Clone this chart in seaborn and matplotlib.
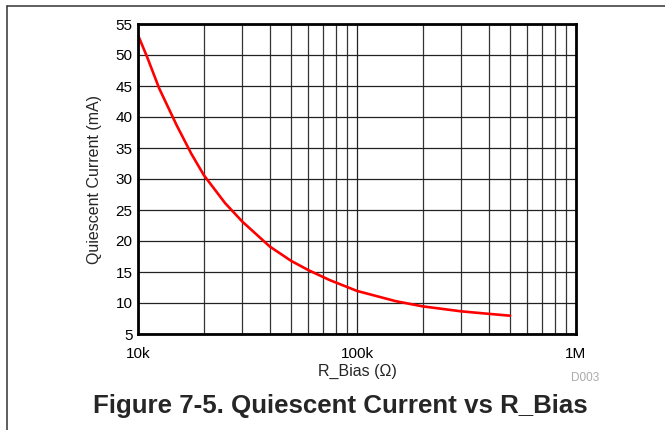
import matplotlib
matplotlib.use("Agg")
import matplotlib.pyplot as plt
from matplotlib.lines import Line2D
from matplotlib.ticker import FixedLocator, FixedFormatter, LogLocator, NullFormatter
import seaborn as sns
import pandas as pd

# Quiescent current vs bias resistor
r_bias_ohm = [10e3, 11e3, 12.5e3, 15e3, 17.5e3, 20e3, 25e3, 30e3, 40e3, 50e3,
              60e3, 75e3, 100e3, 150e3, 200e3, 300e3, 400e3, 500e3]
iq_ma = [53.2, 49.7, 44.6, 38.7, 34.1, 30.6, 26.1, 23.1, 19.1, 16.8,
         15.3, 13.7, 11.95, 10.3, 9.45, 8.65, 8.25, 7.95]

x_ticks = [1e4, 1e5, 1e6]
x_tick_labels = ["10k", "100k", "1M"]
y_ticks = [5, 10, 15, 20, 25, 30, 35, 40, 45, 50, 55]

sns.set_theme(style="white")
plt.rcParams["font.family"] = ["Liberation Sans", "DejaVu Sans"]

df = pd.DataFrame({"R_Bias": r_bias_ohm, "Iq": iq_ma})

fig = plt.figure(figsize=(6.65, 4.30), dpi=100)
ax = fig.add_axes([138 / 665, 1 - 334 / 430, 438 / 665, 310 / 430])

sns.lineplot(data=df, x="R_Bias", y="Iq", ax=ax, color="#ff0000",
             linewidth=1.9, zorder=3)

ax.set_xscale("log")
ax.set_xlim(1e4, 1e6)
ax.set_ylim(5, 55)
ax.xaxis.set_major_locator(FixedLocator(x_ticks))
ax.xaxis.set_major_formatter(FixedFormatter(x_tick_labels))
ax.xaxis.set_minor_locator(LogLocator(base=10, subs=range(2, 10)))
ax.xaxis.set_minor_formatter(NullFormatter())
ax.set_yticks(y_ticks)

ax.grid(which="major", axis="both", color="#222222", linewidth=0.9)
ax.grid(which="minor", axis="x", color="#333333", linewidth=0.9)
ax.tick_params(which="both", length=0, labelsize=11, colors="#000000")
ax.tick_params(axis="x", pad=9)
ax.tick_params(axis="y", pad=4)

for sp in ax.spines.values():
    sp.set_color("#000000")
    sp.set_linewidth(2.0)
    sp.set_zorder(4)

ax.set_xlabel("R_Bias (\u03a9)", fontsize=11.5)
ax.set_ylabel("Quiescent Current (mA)", fontsize=11.5)
ax.xaxis.set_label_coords(0.5, -0.095)
ax.yaxis.set_label_coords(-0.082, 0.5)

fig.text(585 / 665, 1 - 378 / 430, "D003", fontsize=8.5, color="#aaaaaa",
         ha="center", va="center")
fig.text(340 / 665, 1 - 406 / 430, "Figure 7-5. Quiescent Current vs R_Bias",
         fontsize=18.6, fontweight="bold", ha="center", va="center")

# page frame: top and left rules
fig.add_artist(Line2D([7 / 665, 1.0], [1 - 6 / 430, 1 - 6 / 430],
                      transform=fig.transFigure, color="#333333", linewidth=1.1))
fig.add_artist(Line2D([7 / 665, 7 / 665], [1 - 6 / 430, 0.0],
                      transform=fig.transFigure, color="#333333", linewidth=1.1))

fig.savefig("out.png", dpi=100, facecolor="white")
